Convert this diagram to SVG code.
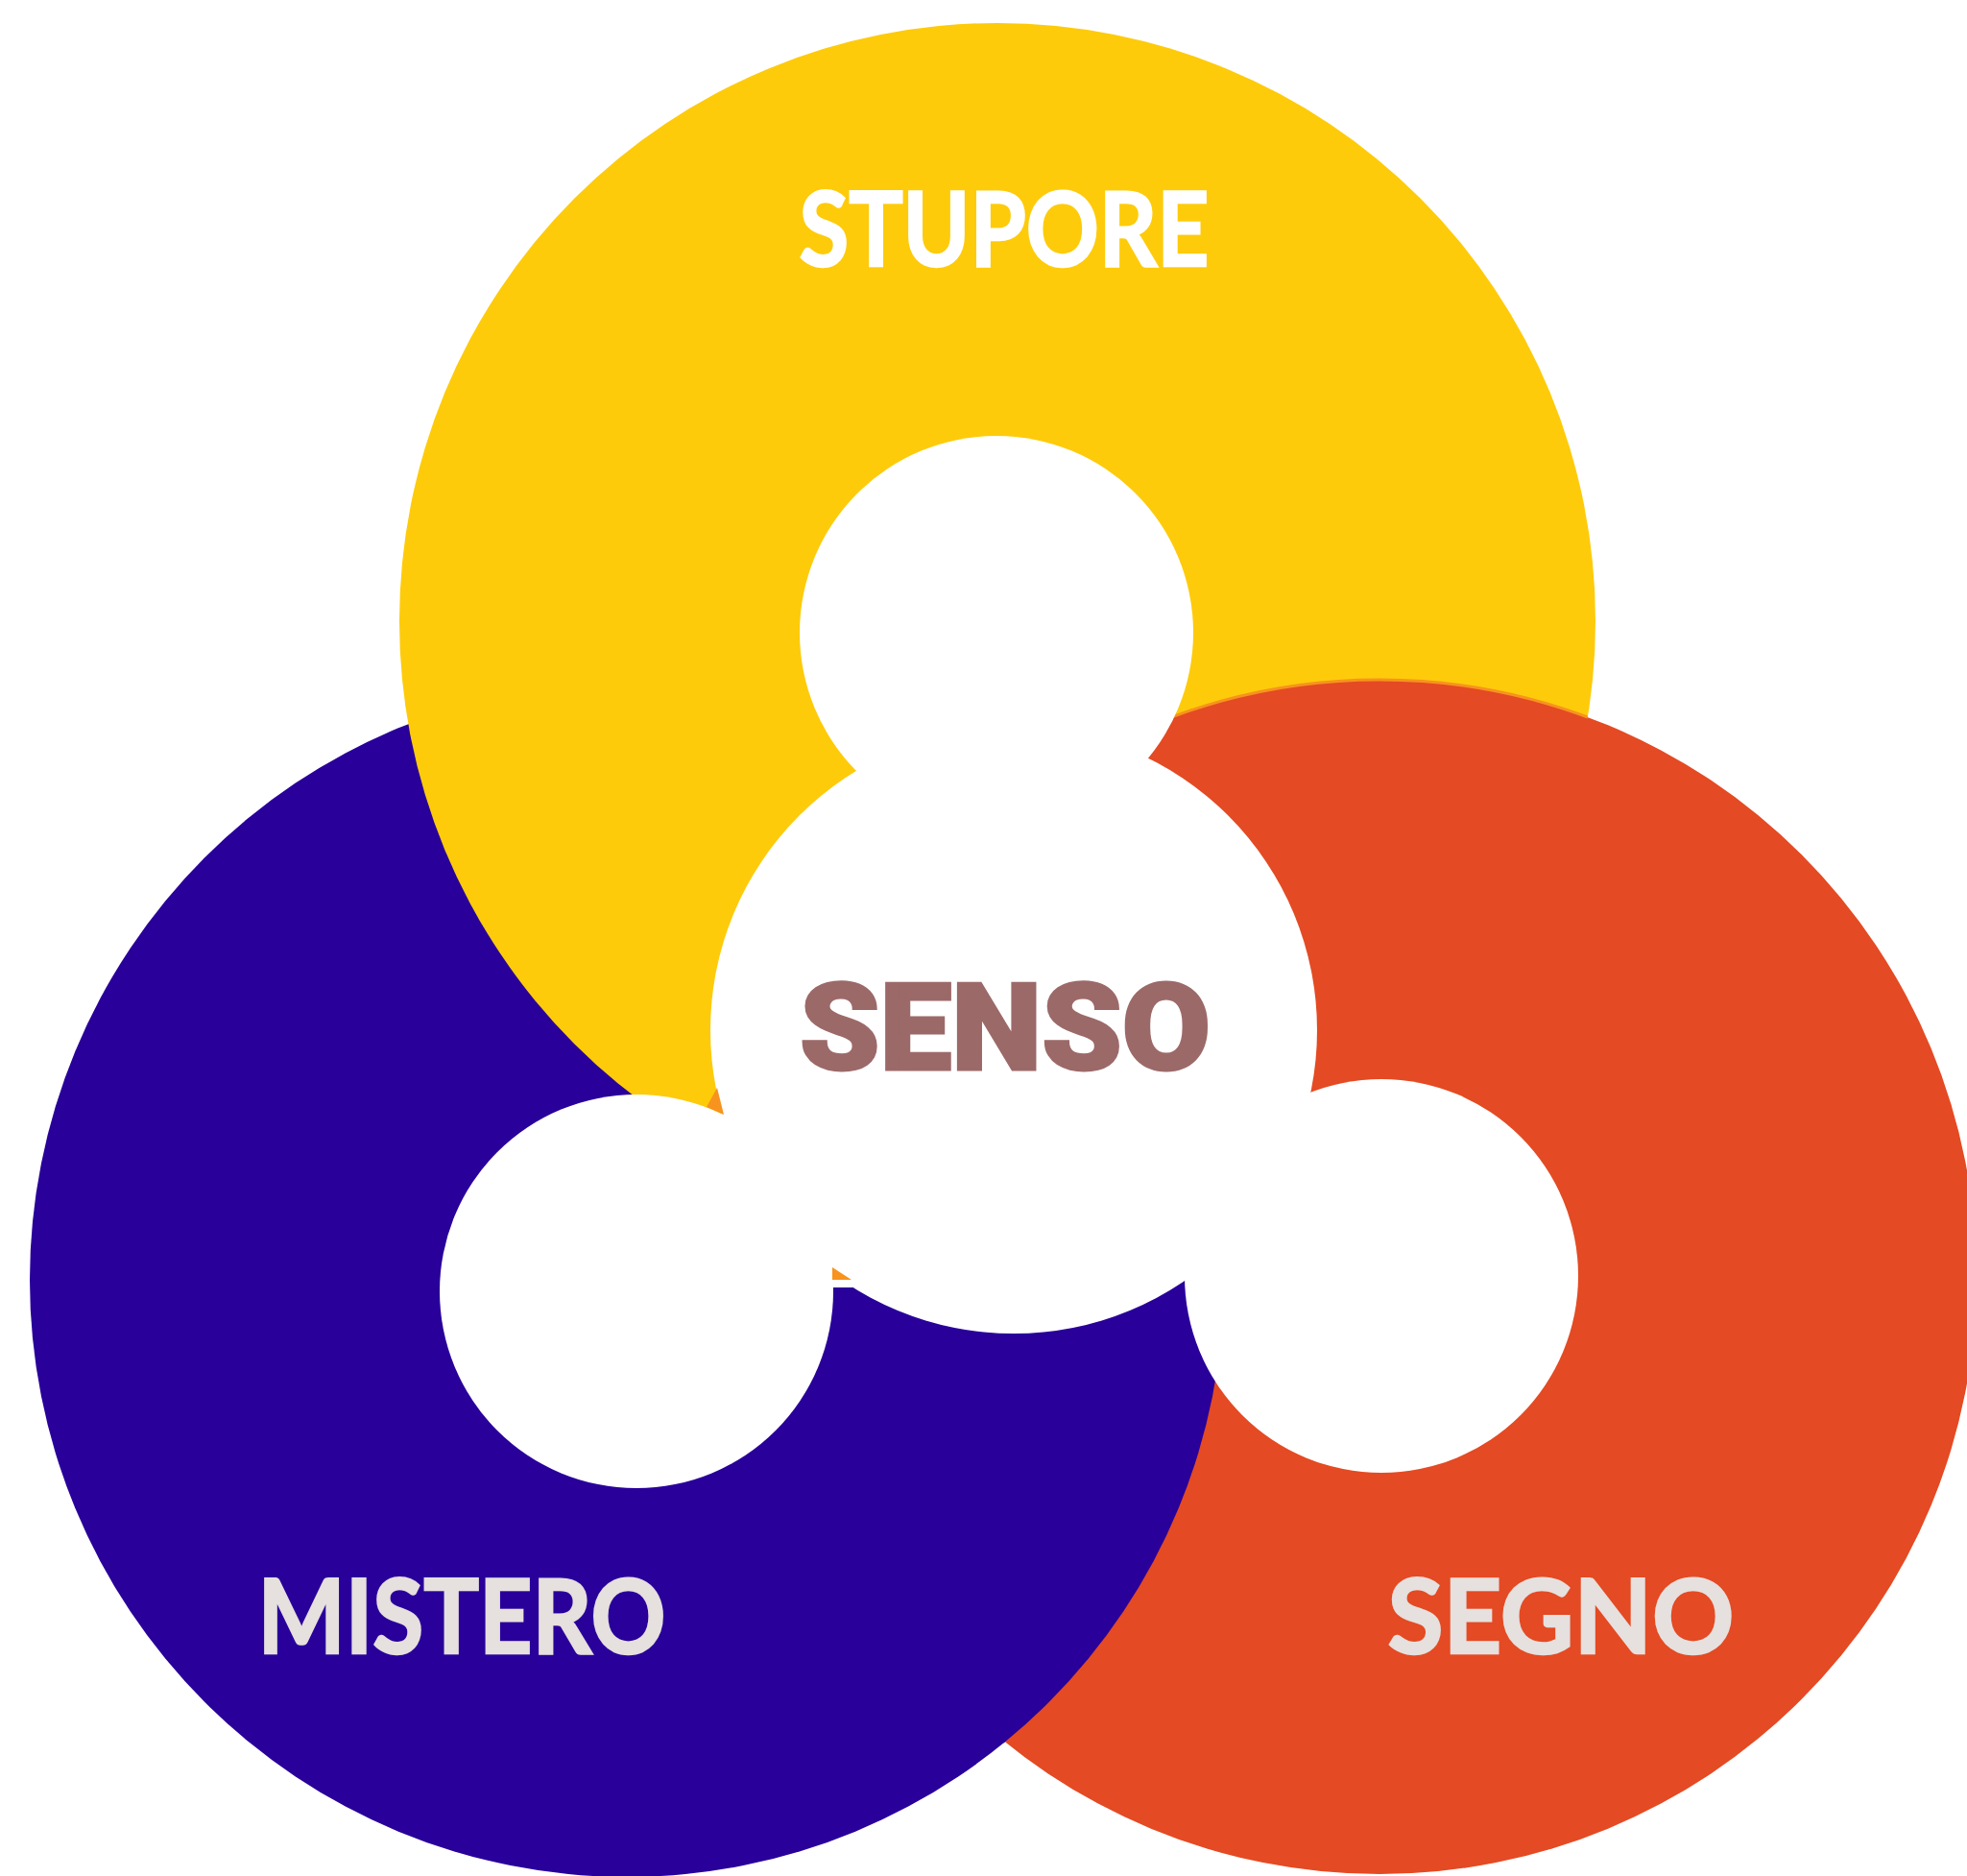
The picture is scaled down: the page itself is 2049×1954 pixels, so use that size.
<svg xmlns="http://www.w3.org/2000/svg" width="2049" height="1954" viewBox="0 0 2049 1954">
  <style>
    .lbl { font-family: Lato, "Liberation Sans", Arial, sans-serif; font-weight: bold; font-size: 108px; text-anchor: middle; stroke-width: 2.5; stroke-linejoin: miter; }
    .lbl-light { fill: #E6E0DE; stroke: #E6E0DE; }
    .lbl-white { fill: #FFFFFF; stroke: #FFFFFF; }
    .senso { font-family: Roboto, Lato, "Liberation Sans", Arial, sans-serif; font-weight: 900; font-size: 126px; text-anchor: middle; fill: #9C6969; stroke: #9C6969; stroke-width: 3; stroke-linejoin: miter; }
    .hole { fill: #FFFFFF; }
    .accent { fill: #F7931E; }
  </style>
  <defs>
    <clipPath id="clipOrange"><circle cx="1437" cy="1330" r="624"/></clipPath>
    <clipPath id="clipYellow"><circle cx="1039" cy="647" r="623"/></clipPath>
  </defs>
  <rect x="0" y="0" width="2049" height="1954" fill="#FFFFFF"/>

  <g id="mistero">
    <circle cx="653" cy="1333" r="622" fill="#29009A"/>
    <text class="lbl lbl-light" x="481" y="1722" textLength="425" lengthAdjust="spacingAndGlyphs">MISTERO</text>
  </g>

  <g id="stupore">
    <circle cx="1039" cy="647" r="623" fill="#FECB0A"/>
    <text class="lbl lbl-white" x="1046" y="277" textLength="427" lengthAdjust="spacingAndGlyphs">STUPORE</text>
  </g>

  <g id="segno">
    <circle cx="1437" cy="1330" r="622" fill="#E44A23"/>
    <circle cx="1437" cy="1330" r="622" fill="none" stroke="#F7931E" stroke-width="3" clip-path="url(#clipYellow)"/>
    <text class="lbl lbl-light" x="1626" y="1722" textLength="361" lengthAdjust="spacingAndGlyphs">SEGNO</text>
  </g>

  <g id="mistero-overlap">
    <circle cx="653" cy="1333" r="622" fill="#29009A" clip-path="url(#clipOrange)"/>
  </g>

  <g id="connectors"></g>

  <g id="senso">
    <circle class="hole" cx="1056" cy="1073" r="316"/>
    <circle class="hole" cx="1038" cy="659" r="205"/>
    <circle class="hole" cx="663" cy="1345" r="205"/>
    <circle class="hole" cx="1439" cy="1329" r="205"/>
    <rect class="hole" x="860" y="1300" width="40" height="41"/>
    <polygon class="accent" points="747,1133 754,1161 736,1153"/>
    <polygon class="accent" points="867,1320 867,1333 887,1333"/>
    <text class="senso" x="1047" y="1114" textLength="428" lengthAdjust="spacingAndGlyphs">SENSO</text>
  </g>
</svg>
